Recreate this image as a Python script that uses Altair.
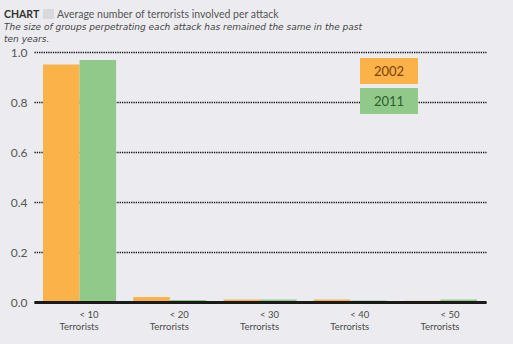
import altair as alt
import pandas as pd

categories = ["< 10", "< 20", "< 30", "< 40", "< 50"]
years = ["2002", "2011"]
values_2002 = [0.950, 0.020, 0.010, 0.010, 0.005]
values_2011 = [0.968, 0.008, 0.010, 0.006, 0.010]
colors = ["#FAB249", "#90C989"]
legend_text_colors = ["#7A4200", "#2F5E2E"]

title_bold = "CHART"
title_text = "Average number of terrorists involved per attack"
subtitle_lines = ["The size of groups perpetrating each attack has remained the same in the past",
                  "ten years."]

rows = []
for c, a, b in zip(categories, values_2002, values_2011):
    rows.append({"cat": c, "year": years[0], "value": a})
    rows.append({"cat": c, "year": years[1], "value": b})
df = pd.DataFrame(rows)

FONT = "Lato"
W, H = 452, 250

bars = alt.Chart(df).mark_bar().encode(
    x=alt.X("cat:N", sort=categories,
            scale=alt.Scale(paddingInner=0.19, paddingOuter=0.1),
            axis=alt.Axis(title=None, domain=True, domainColor="#1a1a1a", domainWidth=3,
                          ticks=False, labelAngle=0, labelAlign="right", labelOffset=19,
                          labelPadding=7, labelFontSize=9.5, labelColor="#4a4a4a",
                          labelFont=FONT, labelLineHeight=12, labelBaseline="top",
                          labelExpr="[datum.label, 'Terrorists']", zindex=1)),
    xOffset=alt.XOffset("year:N", sort=years,
                        scale=alt.Scale(paddingInner=0, paddingOuter=0)),
    y=alt.Y("value:Q", scale=alt.Scale(domain=[0, 1]),
            axis=alt.Axis(title=None, values=[0, 0.2, 0.4, 0.6, 0.8, 1.0], format=".1f",
                          domain=False, ticks=False, grid=True, gridColor="#111111",
                          gridDash=[1.3, 1.0], gridWidth=1.6, labelFontSize=12,
                          labelColor="#555555", labelFont=FONT, labelPadding=7)),
    color=alt.Color("year:N", scale=alt.Scale(domain=years, range=colors), legend=None),
)

layers = [bars]

# legend boxes
for i, (yr, col, tcol) in enumerate(zip(years, colors, legend_text_colors)):
    ld = pd.DataFrame({"year": [yr]})
    top = 6 + i * 30
    layers.append(alt.Chart(ld).mark_rect(color=col).encode(
        x=alt.value(326), x2=alt.value(384), y=alt.value(top), y2=alt.value(top + 26)))
    layers.append(alt.Chart(ld).mark_text(color=tcol, fontSize=13, font=FONT,
                                          baseline="middle", align="center").encode(
        x=alt.value(355), y=alt.value(top + 13.5), text="year:N"))

# title pieces
td = pd.DataFrame({"t": [title_bold]})
layers.append(alt.Chart(td).mark_text(font=FONT, fontSize=10.5, fontWeight="bold",
                                      color="#333333", align="left", baseline="alphabetic").encode(
    x=alt.value(-30), y=alt.value(-34), text="t:N"))
layers.append(alt.Chart(td).mark_rect(color="#D9D9DD").encode(
    x=alt.value(9), x2=alt.value(20), y=alt.value(-43), y2=alt.value(-33)))
td2 = pd.DataFrame({"t": [title_text]})
layers.append(alt.Chart(td2).mark_text(font=FONT, fontSize=10.5, color="#555555",
                                       align="left", baseline="alphabetic").encode(
    x=alt.value(23), y=alt.value(-34), text="t:N"))
layers.append(alt.Chart(td).mark_text(font="DejaVu Sans", fontSize=9, fontStyle="italic",
                                      color="#444444", align="left", lineHeight=11.5,
                                      baseline="alphabetic").encode(
    x=alt.value(-30), y=alt.value(-22), text=alt.value(subtitle_lines)))

chart = alt.layer(*layers).properties(
    width=W, height=H,
    autosize=alt.AutoSizeParams(type="none"),
    padding={"left": 34, "top": 52, "right": 27, "bottom": 42},
    background="#ECECF0",
).configure_view(stroke=None)

chart.save("out.html", embed_options={"renderer": "svg", "actions": False})
